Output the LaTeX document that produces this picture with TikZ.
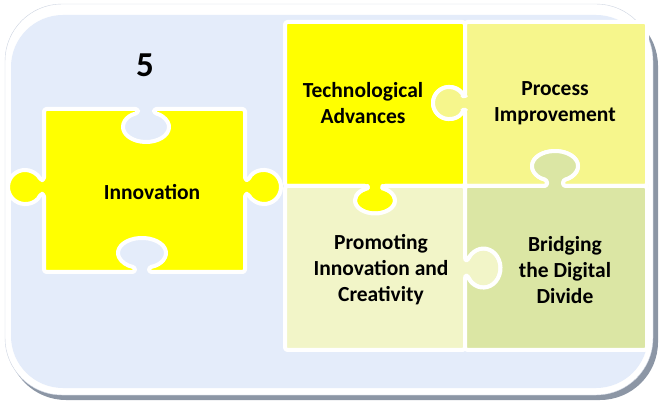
\documentclass[tikz,border=0pt]{standalone}
\usepackage{fontspec}
\setmainfont{Carlito}
\definecolor{bgblue}{RGB}{228,236,250}
\definecolor{rimgray}{RGB}{140,150,165}
\definecolor{rimlight}{RGB}{205,212,225}
\definecolor{c1}{RGB}{255,255,0}
\definecolor{c2}{RGB}{246,246,140}
\definecolor{c3}{RGB}{242,245,200}
\definecolor{c4}{RGB}{219,230,164}

\begin{document}
\begin{tikzpicture}[x=1pt,y=1pt,
  piece/.style={draw=white,line width=4pt,line join=round,rounded corners=2.5pt},
  piecetext/.style={font=\bfseries\fontsize{21.5}{26}\selectfont,align=center,inner sep=0pt}]
\useasboundingbox (0,0) rectangle (660,401);

%%% Frame
\fill[rimgray,rounded corners=58pt] (8,1) rectangle (658,393);
\fill[white,rounded corners=57pt] (5,6) rectangle (653,397);
\draw[rimlight,rounded corners=57pt] (5,6) rectangle (653,397);
\fill[bgblue,rounded corners=52pt] (11,13) rectangle (648,386);

%%% Single piece on the left
\fill[c1,piece] (44,292) -- (138,292) -- (138,288.06)
  arc[start angle=110.4,end angle=429.6,x radius=23pt,y radius=15pt]
  -- (154,292) -- (245,292) -- (245,221) -- (248.5,221)
  arc[start angle=155.7,end angle=-155.7,radius=17pt]
  -- (245,207) -- (245,129) -- (149,129) -- (149,133.7)
  arc[start angle=-73,end angle=253,x radius=24pt,y radius=15pt]
  -- (135,129) -- (44,129) -- (44,207) -- (40.5,207)
  arc[start angle=-24.3,end angle=-335.7,radius=17pt]
  -- (44,221) -- cycle;

%%% Top row of the square
\fill[c1,piece] (285,379) -- (465,379) -- (465,305) -- (463.4,305)
  arc[start angle=25.9,end angle=334.1,radius=16pt]
  -- (465,291) -- (465,215) -- (382.5,215) -- (382.5,212.55)
  arc[start angle=68,end angle=-248,x radius=20pt,y radius=13pt]
  -- (367.5,215) -- (285,215) -- cycle;
\fill[c2,piece] (465,379) -- (647,379) -- (647,215) -- (563,215) -- (563,220.94)
  arc[start angle=-69.6,end angle=249.6,x radius=23pt,y radius=15pt]
  -- (547,215) -- (465,215) -- (465,291) -- (463.4,291)
  arc[start angle=-25.9,end angle=-334.1,radius=16pt]
  -- (465,305) -- cycle;

%%% Bottom row of the square
\fill[c3,piece] (285,215) -- (367.5,215) -- (367.5,212.55)
  arc[start angle=112,end angle=428,x radius=20pt,y radius=13pt]
  -- (382.5,215) -- (465,215) -- (465,141) -- (468,141)
  arc[start angle=155.8,end angle=-155.8,x radius=17pt,y radius=19.5pt]
  -- (465,125) -- (465,51) -- (285,51) -- cycle;
\fill[c4,piece] (465,215) -- (547,215) -- (547,220.94)
  arc[start angle=249.6,end angle=-69.6,x radius=23pt,y radius=15pt]
  -- (563,215) -- (647,215) -- (647,51) -- (465,51) -- (465,125) -- (468,125)
  arc[start angle=-155.8,end angle=155.8,x radius=17pt,y radius=19.5pt]
  -- (465,141) -- cycle;

%%% Texts
\node[font=\bfseries\fontsize{35}{40}\selectfont] (num) at (145,336) {5};
\node[piecetext] (innov) at (152,209) {Innovation};
\node[piecetext] (tech) at (363,298) {Technological\\Advances};
\node[piecetext] (proc) at (555,298) {Process\\Improvement};
\node[piecetext] (prom) at (381,131) {Promoting\\Innovation and\\Creativity};
\node[piecetext] (brid) at (565,131) {Bridging\\the Digital\\Divide};
\end{tikzpicture}
\end{document}
